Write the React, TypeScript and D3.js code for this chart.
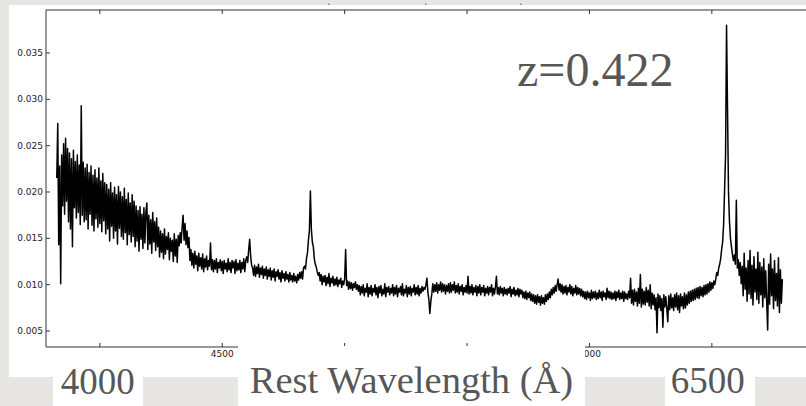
import React from "react";
import * as d3 from "d3";

// Spectrum sampled on a uniform rest-wavelength grid (Å); flux in units of 1e-4
const WAVE_START = 3824;
const WAVE_STEP = 4;
const FLUX_UNIT = 1e-4;
const FLUX_E4 = [
  215, 274, 143, 228, 101, 240, 185, 252, 176, 258,
  190, 247, 168, 242, 160, 236, 141, 245, 183, 233,
  172, 240, 178, 229, 165, 293, 175, 232, 168, 226,
  170, 230, 160, 221, 176, 228, 164, 218, 158, 224,
  171, 215, 162, 226, 166, 212, 157, 220, 169, 210,
  155, 208, 160, 203, 147, 210, 163, 199, 150, 205,
  158, 197, 144, 206, 161, 200, 152, 195, 149, 204,
  156, 192, 143, 199, 154, 188, 146, 197, 152, 190,
  141, 185, 147, 180, 136, 184, 149, 176, 139, 183,
  145, 178, 188, 138, 175, 144, 170, 134, 178, 146,
  168, 137, 172, 141, 162, 130, 158, 135, 155, 128,
  160, 133, 152, 138, 156, 127, 150, 136, 148, 125,
  155, 131, 149, 124, 153, 142, 156, 145, 162, 175,
  148, 166, 143, 158, 140, 151, 126, 138, 121, 134,
  118, 136, 122, 131, 115, 134, 120, 129, 117, 133,
  114, 128, 119, 131, 116, 126, 120, 145, 116, 127,
  114, 126, 117, 128, 113, 124, 118, 127, 115, 125,
  112, 126, 117, 123, 114, 128, 116, 124, 113, 126,
  118, 125, 112, 127, 115, 123, 116, 126, 113, 124,
  117, 128, 114, 126, 130, 124, 138, 149, 131, 121,
  118, 110, 121, 109, 119, 112, 122, 108, 118, 111,
  120, 107, 117, 110, 119, 106, 116, 109, 118, 105,
  115, 108, 117, 104, 114, 109, 116, 106, 113, 103,
  115, 107, 112, 104, 114, 106, 111, 103, 113, 105,
  110, 103, 112, 104, 109, 102, 111, 105, 113, 107,
  114, 106, 118, 120, 117, 128, 134, 148, 158, 201,
  160, 146, 141, 128, 122, 119, 114, 110, 113, 104,
  111, 100, 109, 103, 110, 99, 108, 101, 112, 98,
  107, 102, 109, 99, 106, 100, 108, 98, 105, 101,
  107, 97, 104, 100, 106, 138, 99, 104, 95, 103,
  96, 102, 94, 101, 97, 103, 95, 100, 93, 99,
  89, 98, 91, 100, 88, 96, 92, 101, 87, 97,
  90, 99, 88, 96, 92, 100, 89, 97, 86, 98,
  91, 99, 88, 95, 90, 101, 87, 97, 92, 98,
  89, 96, 91, 100, 88, 97, 90, 99, 87, 96,
  92, 98, 89, 101, 88, 95, 91, 99, 87, 97,
  90, 98, 88, 96, 92, 100, 89, 97, 90, 99,
  88, 96, 91, 98, 93, 97, 95, 100, 107, 92,
  84, 69, 82, 90, 101, 92, 100, 93, 102, 91,
  100, 94, 103, 92, 101, 93, 100, 90, 99, 93,
  101, 91, 102, 92, 100, 94, 103, 91, 99, 92,
  101, 90, 98, 93, 100, 89, 97, 92, 99, 91,
  109, 90, 98, 91, 100, 89, 97, 92, 99, 88,
  98, 91, 100, 89, 97, 92, 99, 88, 96, 91,
  98, 89, 97, 92, 100, 88, 96, 90, 98, 109,
  90, 97, 89, 98, 91, 96, 88, 97, 90, 95,
  89, 96, 91, 98, 87, 95, 90, 97, 88, 94,
  89, 96, 87, 95, 90, 94, 86, 92, 85, 93,
  84, 91, 86, 92, 83, 90, 82, 89, 80, 88,
  79, 89, 81, 87, 78, 88, 80, 86, 79, 89,
  82, 90, 84, 92, 86, 95, 89, 97, 91, 99,
  93, 100, 106, 94, 101, 92, 100, 90, 98, 91,
  99, 89, 97, 92, 100, 90, 98, 88, 96, 91,
  99, 89, 97, 90, 96, 88, 95, 87, 93, 85,
  92, 84, 93, 86, 91, 83, 94, 85, 92, 86,
  93, 84, 91, 85, 94, 86, 92, 83, 93, 87,
  91, 84, 96, 86, 93, 85, 92, 84, 91, 85,
  93, 83, 92, 86, 94, 84, 91, 85, 93, 82,
  92, 85, 90, 84, 93, 86, 107, 80, 94, 78,
  95, 82, 92, 77, 96, 80, 111, 76, 95, 79,
  93, 78, 97, 81, 94, 77, 100, 74, 91, 78,
  89, 73, 86, 48, 90, 75, 88, 72, 85, 54,
  89, 76, 87, 74, 60, 88, 73, 90, 75, 86,
  72, 89, 76, 91, 73, 88, 70, 90, 77, 87,
  74, 91, 75, 89, 78, 92, 80, 93, 82, 94,
  83, 95, 84, 96, 86, 97, 85, 98, 88, 97,
  87, 99, 89, 100, 90, 101, 92, 103, 94, 102,
  96, 104, 100, 106, 113, 110, 118, 122, 128, 138,
  146, 165, 202, 240, 380, 290, 200, 168, 150, 141,
  133, 126, 132, 122, 191, 118, 127, 110, 124, 101,
  120, 88, 134, 95, 118, 82, 126, 90, 137, 85,
  121, 78, 130, 92, 117, 84, 135, 80, 124, 89,
  119, 76, 128, 86, 115, 81, 51, 122, 79, 133,
  88, 117, 74, 126, 83, 112, 77, 129, 70, 116,
  80, 106,
];

const X_TICKS = [4000, 4500, 5000, 5500, 6000, 6500, 7000];
const X_TICK_LABELS = [4000, 4500, 5000, 5500, 6000, 6500];
const Y_TICKS = [0.005, 0.01, 0.015, 0.02, 0.025, 0.03, 0.035];
const REDSHIFT_LABEL = "z=0.422";
const AXIS_TITLE = "Rest Wavelength (Å)";
const BIG_X_LABELS = [4000, 6500];

const W = 806;
const H = 406;
const AX = { left: 46, top: 10, bottom: 347 };

export default function App() {
  const x = d3.scaleLinear().domain([3780, 7000]).range([AX.left, AX.left + 3220 * 0.2448]);
  const y = d3.scaleLinear().domain([0.003273, 0.03964]).range([AX.bottom, AX.top]);
  const pts = FLUX_E4.map(
    (f, i) => [WAVE_START + i * WAVE_STEP, f * FLUX_UNIT] as [number, number]
  );
  const line = d3
    .line<[number, number]>()
    .x((d) => x(d[0]))
    .y((d) => y(d[1]));
  const yFmt = d3.format(".3f");
  const serif = "'Liberation Serif', 'DejaVu Serif', serif";
  const sans = "'DejaVu Sans', sans-serif";
  const textGrey = "#575757";

  return (
    <svg
      width={W}
      height={H}
      style={{ position: "absolute", left: 0, top: 0, display: "block" }}
    >
      <defs>
        <clipPath id="plotclip">
          <rect x={AX.left} y={AX.top} width={W - AX.left} height={AX.bottom - AX.top} />
        </clipPath>
      </defs>
      {/* slide background */}
      <rect x={0} y={0} width={W} height={H} fill="#e7e6e2" />
      {[328, 425, 520].map((mx) => (
        <rect key={mx} x={mx} y={3.5} width={1.5} height={2} fill="#8a8a8a" />
      ))}
      {/* figure panel */}
      <rect x={9} y={5} width={W - 9} height={372} fill="#ffffff" />

      {/* spectrum */}
      <g clipPath="url(#plotclip)">
        <path
          d={line(pts) || ""}
          fill="none"
          stroke="#000"
          strokeWidth={1.5}
          strokeLinejoin="round"
        />
      </g>

      {/* axes frame */}
      <line x1={AX.left} x2={AX.left} y1={AX.top} y2={AX.bottom} stroke="#333" strokeWidth={1} />
      <line x1={AX.left} x2={W} y1={AX.top} y2={AX.top} stroke="#333" strokeWidth={1} />
      <line x1={AX.left} x2={W} y1={AX.bottom} y2={AX.bottom} stroke="#333" strokeWidth={1} />

      {/* y ticks */}
      {Y_TICKS.map((t) => (
        <g key={t}>
          <line x1={AX.left} x2={AX.left + 4} y1={y(t)} y2={y(t)} stroke="#333" strokeWidth={1} />
          <text
            x={AX.left - 3}
            y={y(t)}
            dy="0.35em"
            textAnchor="end"
            fontFamily={sans}
            fontSize={9}
            fill="#222"
          >
            {yFmt(t)}
          </text>
        </g>
      ))}

      {/* x ticks */}
      {X_TICKS.map((t) => (
        <g key={t}>
          <line x1={x(t)} x2={x(t)} y1={AX.top} y2={AX.top + 4} stroke="#333" strokeWidth={1} />
          <line x1={x(t)} x2={x(t)} y1={AX.bottom} y2={AX.bottom - 4} stroke="#333" strokeWidth={1} />
        </g>
      ))}
      {X_TICK_LABELS.map((t) => (
        <text
          key={t}
          x={x(t)}
          y={357}
          textAnchor="middle"
          fontFamily={sans}
          fontSize={9}
          fill="#222"
        >
          {t}
        </text>
      ))}

      {/* redshift annotation */}
      <text x={517} y={86} fontFamily={serif} fontSize={48} fill={textGrey}>
        {REDSHIFT_LABEL}
      </text>

      {/* overlay label boxes */}
      <rect x={53} y={349} width={90} height={57} fill="#fff" />
      <rect x={238} y={346} width={347} height={60} fill="#fff" />
      <rect x={665} y={348} width={90} height={58} fill="#fff" />

      <text x={x(BIG_X_LABELS[0]) - 2} y={394} textAnchor="middle" fontFamily={serif} fontSize={37} fill={textGrey}>
        {BIG_X_LABELS[0]}
      </text>
      <text x={411.5} y={393} textAnchor="middle" fontFamily={serif} fontSize={38.5} fill={textGrey}>
        {AXIS_TITLE}
      </text>
      <text x={x(BIG_X_LABELS[1]) - 4} y={393} textAnchor="middle" fontFamily={serif} fontSize={37} fill={textGrey}>
        {BIG_X_LABELS[1]}
      </text>
    </svg>
  );
}
